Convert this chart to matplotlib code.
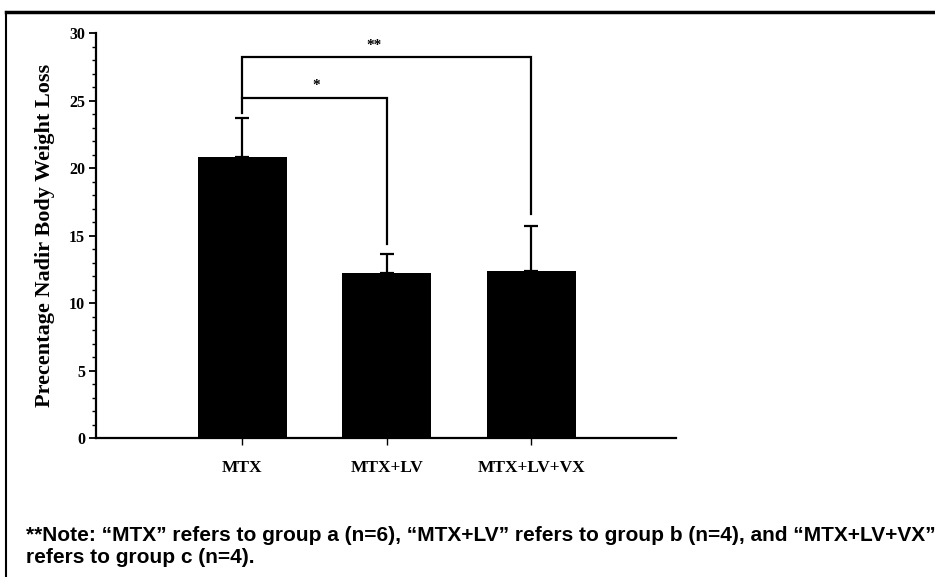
import numpy as np
import matplotlib.pyplot as plt
from matplotlib.lines import Line2D

# group means and upper SEM
groups = ["MTX", "MTX+LV", "MTX+LV+VX"]
means = [20.85, 12.2, 12.4]
errs = [2.85, 1.4, 3.3]

# significance brackets: (left group, right group, bar height, left leg end, right leg end, label)
brackets = [
    (0, 1, 25.2, 24.1, 14.4, "*"),
    (0, 2, 28.2, 25.2, 16.6, "**"),
]

note = ("**Note: \u201cMTX\u201d refers to group a (n=6), \u201cMTX+LV\u201d refers to group b (n=4), "
        "and \u201cMTX+LV+VX\u201d\nrefers to group c (n=4).")

serif = ["Liberation Serif", "DejaVu Serif"]

fig = plt.figure(figsize=(9.35, 5.77), dpi=100)
ax = fig.add_axes([0.1027, 0.2409, 0.6203, 0.7019])

x = np.arange(len(groups))
ax.bar(x, means, width=0.615, color="black", zorder=2)
ax.errorbar(x, means, yerr=[np.zeros(len(errs)), errs], fmt="none",
            ecolor="black", elinewidth=1.6, capsize=5, capthick=1.6, zorder=1)

for x0, x1, h, l0, l1, lab in brackets:
    ax.plot([x0, x0, x1, x1], [l0, h, h, l1], color="black", lw=1.6,
            solid_joinstyle="miter")
ax.text(0.51, 25.6, "*", ha="center", va="bottom", fontsize=11,
        fontweight="bold", family=serif)
ax.text(0.91, 28.6, "**", ha="center", va="bottom", fontsize=11,
        fontweight="bold", family=serif)

ax.set_xlim(-1.01, 3.0)
ax.set_ylim(0, 30)
ax.set_yticks(np.arange(0, 31, 5))
ax.set_yticks(np.arange(0, 31, 1), minor=True)
ax.set_xticks(x)
ax.set_xticklabels(groups)
for s in ["top", "right"]:
    ax.spines[s].set_visible(False)
for s in ["left", "bottom"]:
    ax.spines[s].set_linewidth(1.6)
ax.tick_params(axis="y", which="major", length=5, width=1.3, pad=3)
ax.tick_params(axis="y", which="minor", length=3, width=1.0)
ax.tick_params(axis="x", length=5, width=1.0, pad=11)
for t in ax.get_yticklabels():
    t.set_family(serif)
    t.set_fontweight("bold")
    t.set_fontsize(11.5)
for t in ax.get_xticklabels():
    t.set_family(serif)
    t.set_fontweight("bold")
    t.set_fontsize(12.5)

ax.set_ylabel("Precentage Nadir Body Weight Loss", family=serif,
              fontweight="bold", fontsize=16, labelpad=10)

fig.text(0.028, 0.088, note, ha="left", va="top", fontsize=15,
         fontweight="bold", family=["Liberation Sans", "DejaVu Sans"],
         linespacing=1.2)

# page frame (left and top edges)
fig.add_artist(Line2D([0.006, 0.006], [0.0, 0.979], color="black", lw=1.5,
                      transform=fig.transFigure))
fig.add_artist(Line2D([0.006, 1.0], [0.979, 0.979], color="black", lw=2.5,
                      transform=fig.transFigure))

fig.savefig("out.png", dpi=100)
